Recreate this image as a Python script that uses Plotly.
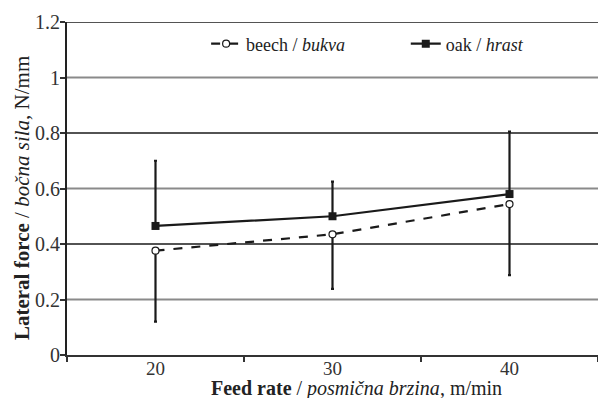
import plotly.graph_objects as go

feed_rates = ["20", "30", "40"]
beech = [0.376, 0.435, 0.544]
beech_err_minus = [0.256, 0.197, 0.256]
oak = [0.465, 0.50, 0.58]
oak_err_plus = [0.235, 0.125, 0.225]
y_ticks = [0, 0.2, 0.4, 0.6, 0.8, 1.0, 1.2]
y_tick_labels = ["0", "0.2", "0.4", "0.6", "0.8", "1", "1.2"]
dark_grid = [0.4, 0.8, 1.2]
gray_grid = [0.2, 0.6, 1.0]
x_title = "<b>Feed rate</b> / <i>posmična brzina</i>, m/min"
y_title = "<b>Lateral force</b> / <i>bočna sila</i>, N/mm"

FONT = "Liberation Serif, Times New Roman, serif"

fig = go.Figure()

fig.add_trace(go.Scatter(
    x=feed_rates, y=beech, name="beech / <i>bukva</i>",
    mode="lines+markers", legend="legend",
    line=dict(color="#1a1a1a", width=2.2, dash="dash"),
    marker=dict(symbol="circle", size=7, color="white", line=dict(color="#1a1a1a", width=1.2)),
    error_y=dict(type="data", symmetric=False, array=[0, 0, 0], arrayminus=beech_err_minus,
                 color="#1a1a1a", thickness=2.2, width=1.5),
))
fig.add_trace(go.Scatter(
    x=feed_rates, y=oak, name="oak / <i>hrast</i>",
    mode="lines+markers", legend="legend2",
    line=dict(color="#1a1a1a", width=2.2),
    marker=dict(symbol="square", size=8, color="#1a1a1a"),
    error_y=dict(type="data", symmetric=False, array=oak_err_plus, arrayminus=[0, 0, 0],
                 color="#1a1a1a", thickness=2.2, width=1.5),
))

shapes = []
for v in gray_grid:
    shapes.append(dict(type="line", xref="paper", x0=0, x1=1, yref="y", y0=v, y1=v,
                       line=dict(color="#8a8a8a", width=2), layer="below"))
for v in dark_grid:
    shapes.append(dict(type="line", xref="paper", x0=0, x1=1, yref="y", y0=v, y1=v,
                       line=dict(color="#1a1a1a", width=1.3), layer="below"))

legend_common = dict(orientation="h", yanchor="middle", xanchor="left",
                     bgcolor="rgba(0,0,0,0)", font=dict(family=FONT, size=18, color="#222"),
                     itemwidth=30)

annotations = [
    dict(text=x_title, xref="paper", yref="paper", x=0.546, y=-0.142,
         xanchor="center", yanchor="bottom", showarrow=False,
         font=dict(family=FONT, size=20, color="#222")),
    dict(text=y_title, xref="paper", yref="paper", x=-0.085, y=0.471,
         xanchor="center", yanchor="middle", showarrow=False, textangle=-90,
         font=dict(family=FONT, size=21, color="#222")),
]

fig.update_layout(
    width=598, height=398,
    margin=dict(l=67, r=0, t=22, b=43),
    paper_bgcolor="white", plot_bgcolor="white",
    font=dict(family=FONT, size=20, color="#222"),
    shapes=shapes,
    annotations=annotations,
    showlegend=True,
    legend=dict(x=0.262, y=0.934, **legend_common),
    legend2=dict(x=0.638, y=0.934, **legend_common),
    xaxis=dict(
        type="category", range=[-0.5, 2.5], tickson="boundaries",
        showgrid=False, zeroline=False,
        showline=True, linecolor="#333", linewidth=2,
        ticks="outside", ticklen=5, tickcolor="#333", tickwidth=1.5,
        tickfont=dict(family=FONT, size=19, color="#333"),
        ticklabelstandoff=-5,
    ),
    yaxis=dict(
        range=[0, 1.2], tickvals=y_ticks, ticktext=y_tick_labels,
        showgrid=False, zeroline=False,
        showline=True, linecolor="#222", linewidth=2,
        ticks="outside", ticklen=5, tickcolor="#333", tickwidth=1.5,
        tickfont=dict(family=FONT, size=20, color="#333"),
        ticklabelstandoff=-4,
    ),
)

fig.write_html("out.html")
